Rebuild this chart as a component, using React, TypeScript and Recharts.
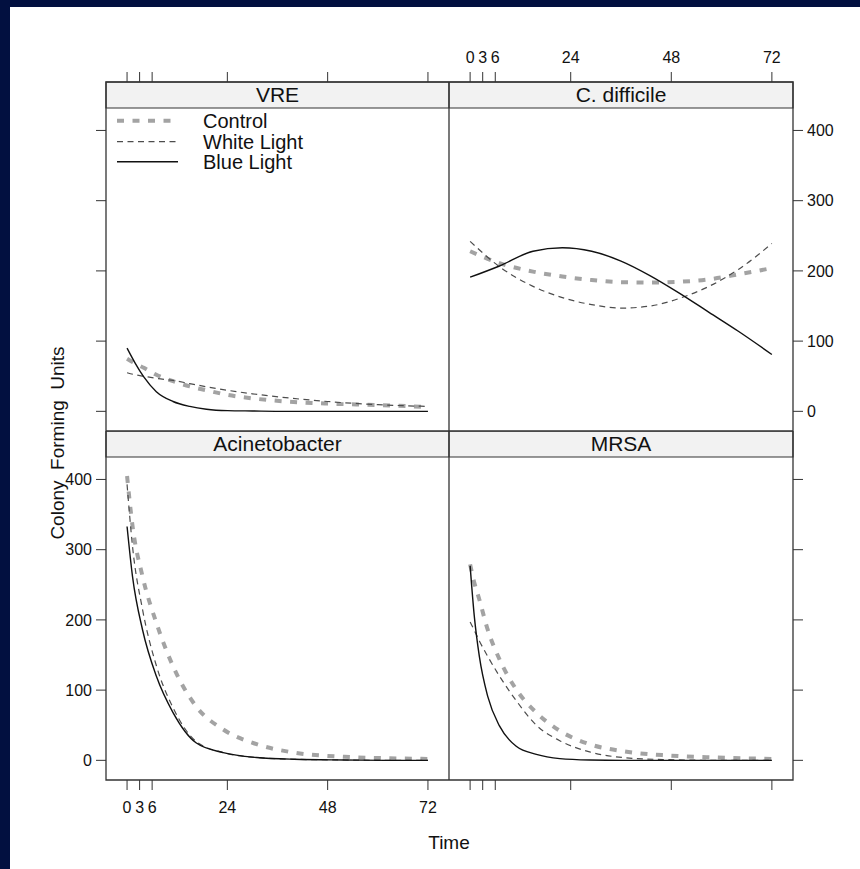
import React from 'react';
import { LineChart, Line, XAxis, YAxis, ReferenceArea } from 'recharts';

// ---------- data ----------
const xTicks = [0, 3, 6, 24, 48, 72];
const yTicks = [0, 100, 200, 300, 400];
const seriesKeys = ['control', 'white', 'blue'];
const seriesNames = ['Control', 'White Light', 'Blue Light'];

const vreTime = [0, 2, 4, 7, 11, 15, 19, 24, 30, 38, 48, 60, 72];
const vreControl = [75, 68, 62, 52, 43, 35.5, 30, 23.5, 18.5, 14, 11, 9, 6];
const vreWhite = [55, 52, 50, 47, 44, 39.5, 35, 30, 25, 19.5, 14, 9.5, 7];
const vreBlue = [90, 68, 49, 28, 14, 7, 3, 1, 0.5, 0, 0, 0, 0];

const cdiffTime = [0, 7, 15, 22, 29, 36, 43, 50, 57, 64, 72];
const cdiffControl = [228, 211, 199, 192, 187, 184, 183.5, 184.5, 188, 195, 204];
const cdiffWhite = [242, 206, 178, 162, 152, 147, 150, 161, 178, 202, 239];
const cdiffBlue = [191, 207, 228, 233, 228, 214, 193, 168, 141, 114, 81];

const acinTime = [0, 1.3, 3.7, 7, 11, 16.5, 23, 31, 40, 52, 62, 72];
const acinControl = [405, 334, 262, 196, 134, 77, 44, 23, 11, 5, 3, 2];
const acinWhite = [393, 305, 215, 135, 75, 27, 11, 4, 1.5, 0.5, 0, 0];
const acinBlue = [333, 262, 186, 120, 68, 25, 11, 4, 1.5, 0.5, 0, 0];

const mrsaTime = [0, 1, 2.2, 4.2, 7, 11, 15.8, 21.4, 28.5, 36.5, 47, 59, 72];
const mrsaControl = [279, 253, 229, 186, 144, 101, 68, 42, 23, 13, 7, 4, 2];
const mrsaWhite = [197, 185, 170, 148, 120, 85, 50, 28, 12, 4, 1, 0, 0];
const mrsaBlue = [277, 205, 148, 91, 49, 20, 8.5, 2.5, 0.5, 0, 0, 0, 0];

const build = (time: number[], c: number[], w: number[], b: number[]) =>
  time.map((t, i) => ({ t, control: c[i], white: w[i], blue: b[i] }));

// ---------- styling ----------
const FONT = '"Liberation Sans", Arial, Helvetica, sans-serif';
const NAVY = '#021040';
const FRAME = '#333333';
const X_DOMAIN: [number, number] = [-5.04, 77.04];
const Y_DOMAIN: [number, number] = [-28, 469];
const STRIP_LOW = 432;

const lineStyle: Record<string, { stroke: string; width: number; dash?: string }> = {
  control: { stroke: '#a3a3a3', width: 4, dash: '7 8.5' },
  white: { stroke: '#4d4d4d', width: 1.2, dash: '6 4.5' },
  blue: { stroke: '#111111', width: 1.4 },
};

const AXIS_W = 50;
const AXIS_H = 45;
const PLOT_H = 349;

type PanelProps = {
  title: string;
  data: any[];
  left: number;
  top: number;
  plotW: number;
  col: 'left' | 'right';
  row: 'top' | 'bottom';
  xLabels: boolean;
  yLabels: boolean;
};

function Panel({ title, data, left, top, plotW, col, row, xLabels, yLabels }: PanelProps) {
  const tickStyle = { fontSize: 16, fill: '#111', fontFamily: FONT };
  return (
    <div style={{ position: 'absolute', left, top }}>
      <LineChart
        width={plotW + AXIS_W}
        height={PLOT_H + AXIS_H}
        data={data}
        margin={{ top: 0, right: 0, bottom: 0, left: 0 }}
      >
        <XAxis
          dataKey="t"
          type="number"
          orientation={row === 'top' ? 'top' : 'bottom'}
          height={AXIS_H}
          domain={X_DOMAIN}
          ticks={xTicks}
          interval={0}
          allowDataOverflow
          axisLine={false}
          tickSize={10}
          tickMargin={row === 'top' ? 9 : 12}
          tickLine={{ stroke: FRAME }}
          tick={tickStyle}
          tickFormatter={(v: number) => (xLabels ? String(v) : '')}
        />
        <YAxis
          type="number"
          orientation={col}
          width={AXIS_W}
          domain={Y_DOMAIN}
          ticks={yTicks}
          interval={0}
          allowDataOverflow
          axisLine={false}
          tickSize={10}
          tickMargin={4}
          tickLine={{ stroke: FRAME }}
          tick={tickStyle}
          tickFormatter={(v: number) => (yLabels ? String(v) : '')}
        />
        <ReferenceArea
          y1={STRIP_LOW}
          y2={Y_DOMAIN[1]}
          x1={X_DOMAIN[0]}
          x2={X_DOMAIN[1]}
          fill="#f2f2f2"
          fillOpacity={1}
          stroke={FRAME}
          strokeWidth={1.2}
          ifOverflow="visible"
          label={{ value: title, position: 'center', fontSize: 21, fill: '#111', fontFamily: FONT }}
        />
        {seriesKeys.map((k) => (
          <Line
            key={k}
            dataKey={k}
            type="monotone"
            dot={false}
            stroke={lineStyle[k].stroke}
            strokeWidth={lineStyle[k].width}
            strokeDasharray={lineStyle[k].dash}
            isAnimationActive={false}
          />
        ))}
        <ReferenceArea
          y1={Y_DOMAIN[0]}
          y2={Y_DOMAIN[1]}
          x1={X_DOMAIN[0]}
          x2={X_DOMAIN[1]}
          fill="none"
          fillOpacity={0}
          stroke={FRAME}
          strokeWidth={1.3}
          ifOverflow="visible"
        />
      </LineChart>
    </div>
  );
}

function LegendOverlay() {
  const rows = [120.7, 141.7, 161.7];
  const ends = [172, 176, 178];
  return (
    <g>
      {seriesKeys.map((k, i) => (
        <g key={k}>
          <line
            x1={117}
            x2={ends[i]}
            y1={rows[i]}
            y2={rows[i]}
            stroke={lineStyle[k].stroke}
            strokeWidth={lineStyle[k].width}
            strokeDasharray={lineStyle[k].dash}
          />
          <text x={203} y={rows[i]} dominantBaseline="central" fontSize={20} fontFamily={FONT} fill="#111">
            {seriesNames[i]}
          </text>
        </g>
      ))}
    </g>
  );
}

export default function App() {
  const LEFT_X = 106;
  const MID_X = 449;
  const TOP_Y = 82;
  const BOT_Y = 431;
  return (
    <div style={{ position: 'fixed', left: 0, top: 0, width: 860, height: 869, background: NAVY, overflow: 'hidden' }}>
      <div style={{ position: 'absolute', left: 10, top: 7, width: 850, height: 862, background: '#ffffff' }} />
      <Panel title="VRE" data={build(vreTime, vreControl, vreWhite, vreBlue)} left={LEFT_X - AXIS_W} top={TOP_Y - AXIS_H}
        plotW={343} col="left" row="top" xLabels={false} yLabels={false} />
      <Panel title="C. difficile" data={build(cdiffTime, cdiffControl, cdiffWhite, cdiffBlue)} left={MID_X} top={TOP_Y - AXIS_H}
        plotW={344} col="right" row="top" xLabels={true} yLabels={true} />
      <Panel title="Acinetobacter" data={build(acinTime, acinControl, acinWhite, acinBlue)} left={LEFT_X - AXIS_W} top={BOT_Y}
        plotW={343} col="left" row="bottom" xLabels={true} yLabels={true} />
      <Panel title="MRSA" data={build(mrsaTime, mrsaControl, mrsaWhite, mrsaBlue)} left={MID_X} top={BOT_Y}
        plotW={344} col="right" row="bottom" xLabels={false} yLabels={false} />
      <svg width={860} height={869} style={{ position: 'absolute', left: 0, top: 0, pointerEvents: 'none' }}>
        <LegendOverlay />
        <text x={449} y={842} textAnchor="middle" dominantBaseline="central" fontSize={19} fontFamily={FONT} fill="#111">
          Time
        </text>
        <text
          x={57}
          y={443}
          transform="rotate(-90 57 443)"
          textAnchor="middle"
          dominantBaseline="central"
          fontSize={19}
          fontFamily={FONT}
          fill="#111"
          style={{ whiteSpace: 'pre' }}
        >
          {'Colony  Forming  Units'}
        </text>
      </svg>
    </div>
  );
}
